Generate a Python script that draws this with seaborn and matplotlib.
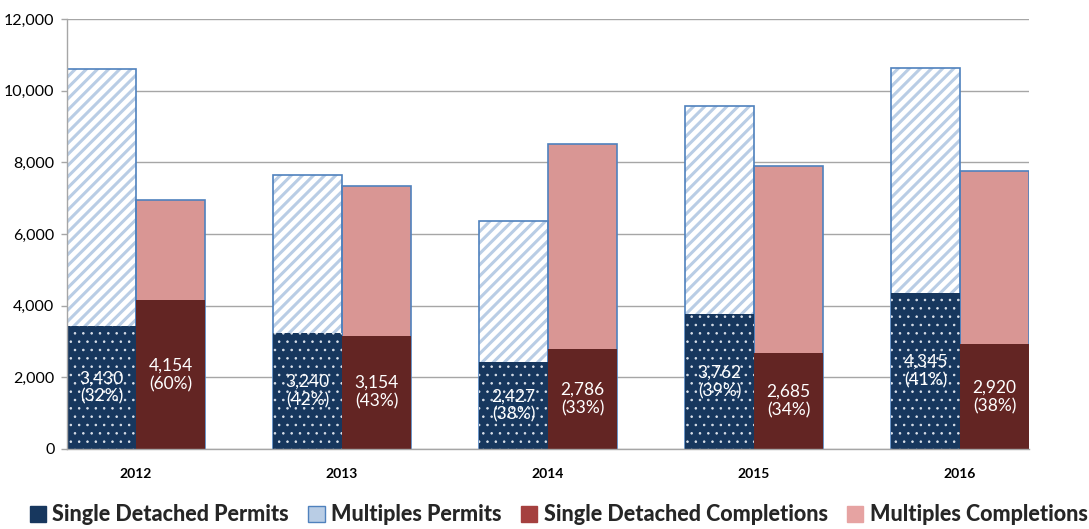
import matplotlib
matplotlib.use("Agg")
import matplotlib.pyplot as plt
from matplotlib.patches import Patch, Rectangle
from matplotlib.ticker import FuncFormatter, MultipleLocator
import numpy as np
import pandas as pd
import seaborn as sns

# Housing permits vs. completions by year
years = ["2012", "2013", "2014", "2015", "2016"]
single_permits = [3430, 3240, 2427, 3762, 4345]
multiples_permits = [7170, 4410, 3943, 5808, 6275]
single_completions = [4154, 3154, 2786, 2685, 2920]
multiples_completions = [2796, 4196, 5714, 5215, 4830]

kinds = ["Permits", "Completions"]
series_names = ["Single Detached Permits", "Multiples Permits",
                "Single Detached Completions", "Multiples Completions"]

NAVY = "#17375E"
HATCH_BLUE = "#B9CDE5"
EDGE_BLUE = "#4F81BD"
DARK_RED = "#632523"
PINK = "#D99694"
GRID = "#A6A6A6"

sns.set_theme(style="white")
plt.rcParams["font.family"] = ["Lato", "DejaVu Sans"]

sp = np.array(single_permits)
mp = np.array(multiples_permits)
sc = np.array(single_completions)
mc = np.array(multiples_completions)

totals = pd.DataFrame({
    "year": years * 2,
    "kind": ["Permits"] * 5 + ["Completions"] * 5,
    "value": np.concatenate([sp + mp, sc + mc]),
})
singles = pd.DataFrame({
    "year": years * 2,
    "kind": ["Permits"] * 5 + ["Completions"] * 5,
    "value": np.concatenate([sp, sc]),
})

fig = plt.figure(figsize=(10.89, 5.29), dpi=100)
ax = fig.add_axes([67 / 1089, 80 / 529, 962 / 1089, 430 / 529])

sns.barplot(data=totals, x="year", y="value", hue="kind", hue_order=kinds,
            palette={"Permits": "white", "Completions": PINK},
            width=0.67, gap=0, linewidth=0, saturation=1, legend=False, ax=ax)
sns.barplot(data=singles, x="year", y="value", hue="kind", hue_order=kinds,
            palette={"Permits": NAVY, "Completions": DARK_RED},
            width=0.67, gap=0, linewidth=0, saturation=1, legend=False, ax=ax)

tot_perm, tot_comp, sing_perm, sing_comp = ax.containers[:4]


def set_hatch_lw(patch, lw):
    if hasattr(patch, "set_hatch_linewidth"):
        patch.set_hatch_linewidth(lw)
    else:
        patch._hatch_linewidth = lw


# Multiples permits: diagonal light-blue stripes with a blue outline
for bar in tot_perm:
    bar.set_facecolor("white")
    bar.set_edgecolor(HATCH_BLUE)
    bar.set_hatch("///")
    set_hatch_lw(bar, 2.2)
    bar.set_linewidth(0)
    ax.add_patch(Rectangle(bar.get_xy(), bar.get_width(), bar.get_height(),
                           fill=False, edgecolor=EDGE_BLUE, linewidth=1.2,
                           zorder=bar.get_zorder() + 0.1))

for bar in tot_comp:
    bar.set_edgecolor(EDGE_BLUE)
    bar.set_linewidth(1.2)

# Single detached permits: navy with white dots
for bar in sing_perm:
    bar.set_facecolor(NAVY)
    bar.set_edgecolor("#DDE3EC")
    bar.set_hatch("..")
    set_hatch_lw(bar, 0.6)
    bar.set_linewidth(0)
    bar.set_zorder(bar.get_zorder() + 0.5)

for bar in sing_comp:
    bar.set_zorder(bar.get_zorder() + 0.5)

# Value and share labels inside the single-detached segments
for container, single, total in ((sing_perm, sp, sp + mp), (sing_comp, sc, sc + mc)):
    for bar, v, t in zip(container, single, total):
        cx = bar.get_x() + bar.get_width() / 2
        cy = bar.get_y() + bar.get_height() / 2
        ax.text(cx, cy, f"{v:,}\n({round(100 * v / t):.0f}%)", color="white",
                ha="center", va="center", fontsize=12.5, linespacing=1.2,
                zorder=10)

ax.set_xlim(-0.335, 4.335)
ax.set_ylim(0, 12000)
ax.yaxis.set_major_locator(MultipleLocator(2000))
ax.yaxis.set_major_formatter(FuncFormatter(lambda v, _: f"{int(v):,}"))
ax.grid(axis="y", color=GRID, linewidth=1.0)
ax.set_axisbelow(True)
ax.set_xlabel("")
ax.set_ylabel("")

for side in ("top", "right"):
    ax.spines[side].set_visible(False)
for side in ("left", "bottom"):
    ax.spines[side].set_color(GRID)
    ax.spines[side].set_linewidth(1.0)

ax.tick_params(axis="y", which="major", left=True, length=4, width=1,
               color=GRID, labelsize=11.5, labelcolor="#000000", pad=5)
ax.tick_params(axis="x", bottom=False, labelsize=10, pad=8)
for lbl in ax.get_xticklabels():
    lbl.set_fontweight("bold")
    lbl.set_color("#000000")

handles = [
    Patch(facecolor=NAVY, edgecolor=NAVY),
    Patch(facecolor=HATCH_BLUE, edgecolor=EDGE_BLUE, linewidth=1.0),
    Patch(facecolor="#A5403F", edgecolor="#A5403F"),
    Patch(facecolor="#E6A3A2", edgecolor="#E6A3A2"),
]
fig.legend(handles, series_names, loc="lower center", ncol=4,
           bbox_to_anchor=(0.513, -0.03), frameon=False,
           prop={"weight": "black", "size": 15.5},
           handlelength=0.75, handleheight=0.75, handletextpad=0.3,
           columnspacing=0.9)

fig.savefig("out.png", dpi=100, facecolor="white")
